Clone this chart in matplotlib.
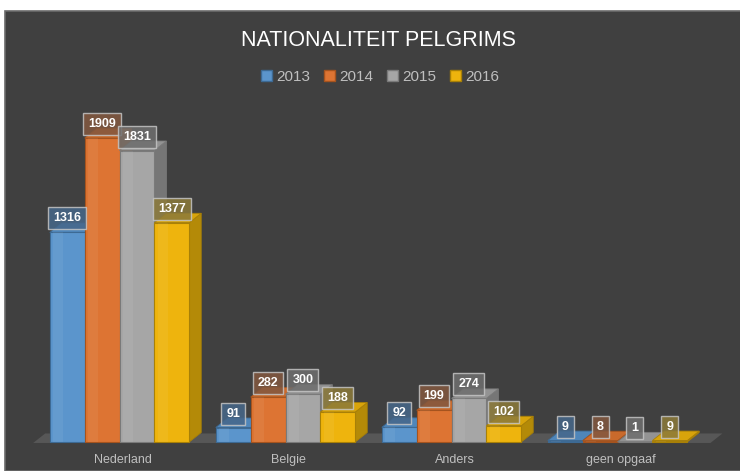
import matplotlib
matplotlib.use("Agg")
import matplotlib.pyplot as plt
from matplotlib.patches import Polygon, Rectangle, Patch

categories = ["Nederland", "Belgie", "Anders", "geen opgaaf"]
years = ["2013", "2014", "2015", "2016"]
v2013 = [1316, 91, 92, 9]
v2014 = [1909, 282, 199, 8]
v2015 = [1831, 300, 274, 1]
v2016 = [1377, 188, 102, 9]
series = [v2013, v2014, v2015, v2016]

front = ["#5b95cc", "#dd7433", "#a6a6a6", "#eeb40d"]
side = ["#3f6c98", "#a3541f", "#767676", "#b48a08"]
top = ["#4f86ba", "#c96a2c", "#939393", "#d8a40b"]
edge = ["#3d6a94", "#a5531e", "#7a7a7a", "#a88007"]
lab_bg = ["#46678a", "#83583f", "#6e6e6e", "#8c7a3a"]

BG = "#404040"
TXT = "#bfbfbf"
FONT = ["Liberation Sans", "DejaVu Sans"]

fig = plt.figure(figsize=(7.4, 4.71), dpi=100)
fig.patch.set_facecolor("white")
ax = fig.add_axes([0, 0, 1, 1])
ax.axis("off")

# pixel-like scaling: 166 px per category, 0.1592 px per unit, base at y=442 px
ax.set_xlim(-119.5 / 166, (740 - 119.5) / 166)
ax.set_ylim(-29 / 0.1592, 442 / 0.1592)

# chart area background
ax.add_patch(Rectangle((5 / 740, 0), 1, 1 - 11 / 471, transform=ax.transAxes,
                       fc=BG, ec="#6b6b6b", lw=1.2, zorder=0))

bw = 0.21
dx = 12 / 166
dy = 9.5 / 0.1592

# floor
fl, fr, fy = -0.52, 3.56, -6
ax.add_patch(Polygon([(fl, fy), (fr, fy), (fr + dx, fy + dy), (fl + dx, fy + dy)],
                     closed=True, fc="#575757", ec="none", zorder=1))

z = 2
for j, vals in enumerate(series):
    for i, v in enumerate(vals):
        x0 = i + (j - 2) * bw
        x1 = x0 + bw
        # side face
        ax.add_patch(Polygon([(x1, 0), (x1, v), (x1 + dx, v + dy), (x1 + dx, dy)],
                             closed=True, fc=side[j], ec=edge[j], lw=0.6, zorder=z + j * 3))
        # top face
        ax.add_patch(Polygon([(x0, v), (x1, v), (x1 + dx, v + dy), (x0 + dx, v + dy)],
                             closed=True, fc=top[j], ec=edge[j], lw=0.6, zorder=z + j * 3))
    ax.bar([i + (j - 2) * bw for i in range(len(vals))], vals, width=bw, align="edge",
           color=front[j], edgecolor=edge[j], lw=0.8, zorder=z + j * 3 + 1)
    # faint highlight band on the left of the front face
    ax.bar([i + (j - 2) * bw + 0.02 for i in range(len(vals))], vals, width=0.06,
           align="edge", color="white", alpha=0.06, lw=0, zorder=z + j * 3 + 2)

# data labels
for j, vals in enumerate(series):
    for i, v in enumerate(vals):
        xc = i + (j - 1.5) * bw
        ax.text(xc, v + 14 / 0.1592, str(v), ha="center", va="center", color="white",
                fontsize=9, weight="bold", family=FONT, zorder=30,
                bbox=dict(boxstyle="square,pad=0.4", fc=lab_bg[j], ec="#c4c4c4",
                          lw=1.0, alpha=0.85))

# category labels
for i, c in enumerate(categories):
    ax.text(i + 0.02, -18 / 0.1592, c, ha="center", va="center", color=TXT,
            fontsize=9, family=FONT)

fig.text(0.512, 1 - 41 / 471, "NATIONALITEIT PELGRIMS", ha="center", va="center",
         color="white", fontsize=15.5, family=FONT)

handles = [Patch(fc=front[j], ec=edge[j], lw=1) for j in range(4)]
fig.legend(handles, years, loc="center", bbox_to_anchor=(0.514, 1 - 77 / 471), ncol=4,
           frameon=False, handlelength=0.7, handleheight=0.7, handletextpad=0.3,
           columnspacing=0.9, prop={"family": FONT, "size": 11}, labelcolor=TXT)

fig.savefig("out.png", dpi=100, facecolor="white")
